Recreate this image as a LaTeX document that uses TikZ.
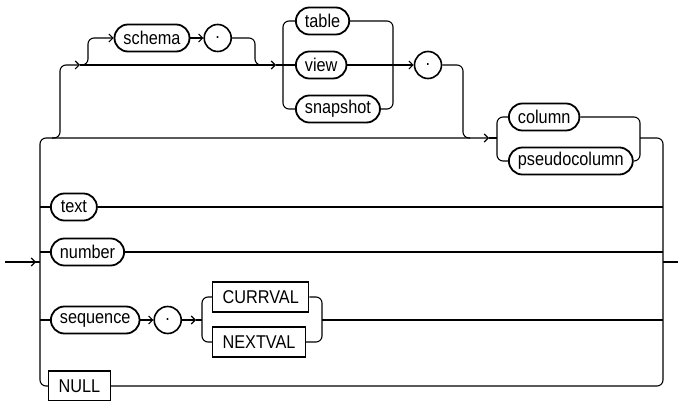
\documentclass[tikz,border=0pt]{standalone}
\usepackage{fontspec}
\setmainfont{Liberation Sans}[FakeStretch=0.88]
\usetikzlibrary{positioning, arrows.meta}

\begin{document}
\begin{tikzpicture}[
        x=1pt, y=-1pt,
        node distance=13pt,
        font=\fontsize{18.5}{21}\selectfont,
        term/.style={rectangle, draw, rounded corners=13.5pt, line width=1.8pt, minimum height=27pt, minimum width=46pt, inner xsep=9pt},
        keyword/.style={rectangle, draw, line width=1.1pt, minimum height=30pt, inner xsep=10pt},
        dot/.style={circle, draw, line width=1.6pt, minimum size=27pt, inner sep=0pt},
        rail/.style={line width=1.1pt, rounded corners=6pt},
        arrow/.style={rail, -{Straight Barb[length=4pt, width=8pt]}}
    ]
        \useasboundingbox (0,0) rectangle (678,401);

        % Define nodes
        \node (schema) [term] at (152,38) {schema};
        \node (dotA) [dot, right=of schema] {.};
        \node (table) [term, anchor=west] at (295,21) {table};
        \node (view) [term, anchor=west] at (295,65) {view};
        \node (snapshot) [term, anchor=west] at (295,109) {snapshot};
        \node (dotB) [dot] at (428,65) {.};
        \node (column) [term, anchor=west] at (508,117) {column};
        \node (pseudocolumn) [term, anchor=west] at (508,161) {pseudocolumn};
        \node (txt) [term, anchor=west] at (50,207) {text};
        \node (num) [term, anchor=west] at (50,252) {number};
        \node (seq) [term, anchor=west] at (50,320) {sequence};
        \node (dotC) [dot, right=of seq] {.};
        \node (currval) [keyword, anchor=west] at (212,297) {CURRVAL};
        \node (nextval) [keyword, anchor=west] at (212,342) {NEXTVAL};
        \node (nul) [keyword, anchor=west] at (48,386) {NULL};

        \coordinate (in) at (5,262);
        \coordinate (out) at (678,262);

        % Entry, left rail and the row to the column choice
        \draw [rail] (in) -- (40,262);
        \draw [arrow] (in) -- (36,262);
        \draw [arrow] (nul.west) -| (40,138) -- (489,138);
        \draw [rail] (489,138) -- (497,138);
        \draw [rail] (40,207) -- (txt.west);
        \draw [rail] (40,252) -- (num.west);
        \draw [rail] (40,320) -- (seq.west);

        % Optional prefix: schema . table/view/snapshot .
        \draw [arrow] (52,138) -| (60,65) -- (80,65);
        \draw [arrow] (80,65) -- (276,65);
        \draw [rail] (276,65) -- (view.west);
        \draw [arrow] (82,65) -| (88,38) -- (schema.west);
        \draw [arrow] (schema) -- (dotA);
        \draw [rail] (dotA.east) -| (255,65) -- (262,65);
        \draw [rail] (table.west) -| (283,65) |- (snapshot.west);
        \draw [rail] (table.east) -| (393,65) |- (snapshot.east);
        \draw [arrow] (view) -- (dotB);
        \draw [rail] (dotB.east) -| (463,138) -- (470,138);

        % Column choice
        \draw [rail] (column.west) -| (497,138) |- (pseudocolumn.west);
        \draw [rail] (column.east) -| (640,138) |- (pseudocolumn.east);

        % Sequence row
        \draw [arrow] (seq) -- (dotC);
        \draw [arrow] (dotC) -- (196,320);
        \draw [rail] (196,320) -- (202,320);
        \draw [rail] (currval.west) -| (202,320) |- (nextval.west);
        \draw [rail] (currval.east) -| (322,320) |- (nextval.east);

        % Right rail and exit
        \draw [rail] (640,138) -| (663,262) |- (nul.east);
        \draw [rail] (663,262) -- (out);
        \draw [rail] (txt.east) -- (663,207);
        \draw [rail] (num.east) -- (663,252);
        \draw [rail] (322,320) -- (663,320);
    \end{tikzpicture}
\end{document}
